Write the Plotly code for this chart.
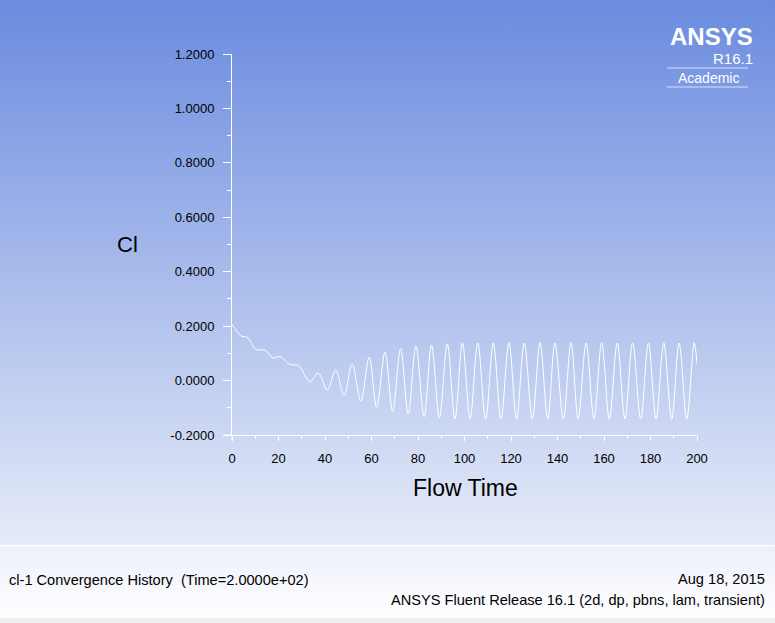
"""
ANSYS Fluent cl-1 수렴 이력(Convergence History)을 Plotly로 다시 그리는 스크립트.
"""
import base64
import plotly.graph_objects as go

# 그림에서 읽은 극값(피크/골) 위주의 점들: Flow Time, Cl
flow_time = [
    0.1, 2.0, 4.2, 6.3, 10.6, 14.0, 17.8, 20.6, 25.0, 28.5,
    33.5, 37.1, 41.0, 44.6, 48.2, 51.7, 55.4, 59.0, 62.2, 65.8,
    69.1, 72.5, 75.8, 79.1, 82.6, 85.8, 89.2, 92.6, 95.9, 99.1,
    102.4, 105.7, 109.1, 112.4, 115.7, 119.1, 122.4, 125.7, 129.2, 132.5,
    135.8, 138.9, 142.5, 145.8, 148.9, 152.3, 155.7, 159.0, 162.3, 165.7,
    169.0, 172.3, 175.8, 179.1, 182.4, 185.7, 189.1, 192.3, 195.6, 198.8,
    200.0,
]
cl = [
    0.206, 0.182, 0.162, 0.160, 0.113, 0.113, 0.083, 0.089, 0.059, 0.055,
    -0.004, 0.027, -0.034, 0.039, -0.055, 0.061, -0.076, 0.086, -0.098, 0.104,
    -0.113, 0.117, -0.123, 0.128, -0.133, 0.131, -0.137, 0.135, -0.141, 0.139,
    -0.141, 0.138, -0.142, 0.138, -0.141, 0.139, -0.142, 0.138, -0.141, 0.139,
    -0.142, 0.138, -0.141, 0.139, -0.142, 0.138, -0.141, 0.140, -0.142, 0.138,
    -0.141, 0.139, -0.142, 0.138, -0.141, 0.139, -0.142, 0.138, -0.141, 0.139,
    0.061,
]

x_ticks = list(range(0, 201, 20))
y_ticks = [-0.2, 0.0, 0.2, 0.4, 0.6, 0.8, 1.0, 1.2]
y_tick_labels = ["-0.2000", "0.0000", "0.2000", "0.4000", "0.6000", "0.8000", "1.0000", "1.2000"]

W, H = 775, 623
L, R, T, B = 232, 78, 54, 188
pw, ph = W - L - R, H - T - B

# 배경 그라데이션 (SVG 데이터 URI)
svg = f"""<svg xmlns='http://www.w3.org/2000/svg' width='{W}' height='{H}'>
<defs>
<linearGradient id='g1' x1='0' y1='0' x2='0' y2='1'>
<stop offset='0' stop-color='#6A8BDF'/><stop offset='1' stop-color='#E6EBF8'/></linearGradient>
<linearGradient id='g2' x1='0' y1='0' x2='0' y2='1'>
<stop offset='0' stop-color='#ECF0FA'/><stop offset='1' stop-color='#FFFFFF'/></linearGradient>
</defs>
<rect x='0' y='0' width='{W}' height='545' fill='url(#g1)'/>
<rect x='0' y='545' width='{W}' height='1' fill='#FFFFFF'/>
<rect x='0' y='546' width='{W}' height='72' fill='url(#g2)'/>
<rect x='0' y='618' width='{W}' height='5' fill='#EEEEEE'/>
</svg>"""
bg_src = "data:image/svg+xml;base64," + base64.b64encode(svg.encode()).decode()


def px_x(p):
    return (p - L) / pw


def px_y(p):
    return (H - B - p) / ph


fig = go.Figure()
fig.add_trace(go.Scatter(
    x=flow_time, y=cl, mode="lines",
    line=dict(color="white", width=1, shape="spline", smoothing=1.0),
    hoverinfo="x+y", showlegend=False,
))

font = "Liberation Sans, Arial, sans-serif"

fig.update_layout(
    width=W, height=H,
    margin=dict(l=L, r=R, t=T, b=B),
    paper_bgcolor="#A8BAEC",
    plot_bgcolor="rgba(0,0,0,0)",
    font=dict(family=font, color="black", size=13),
    images=[dict(
        source=bg_src, xref="paper", yref="paper",
        x=px_x(0), y=px_y(0), sizex=W / pw, sizey=H / ph,
        xanchor="left", yanchor="top", sizing="stretch", layer="below",
    )],
    xaxis=dict(
        range=[0, 200], tickvals=x_ticks, showgrid=False, zeroline=False,
        showline=True, linecolor="white", linewidth=1,
        ticks="outside", ticklen=5, tickcolor="white", tickwidth=1,
        minor=dict(dtick=10, ticks="outside", ticklen=3, tickcolor="white", showgrid=False),
        ticklabelstandoff=6,
        tickfont=dict(size=13, family=font, color="black"),
    ),
    yaxis=dict(
        range=[-0.2, 1.2], tickvals=y_ticks, ticktext=y_tick_labels,
        showgrid=False, zeroline=False,
        showline=True, linecolor="white", linewidth=1,
        ticks="outside", ticklen=8, tickcolor="white", tickwidth=1,
        minor=dict(dtick=0.1, ticks="outside", ticklen=4, tickcolor="white", showgrid=False),
        ticklabelstandoff=6,
        tickfont=dict(size=13, family=font, color="black"),
    ),
    shapes=[
        # 축 선의 짧은 연장
        dict(type="line", xref="paper", yref="paper", x0=px_x(224), x1=0, y0=0, y1=0,
             line=dict(color="white", width=1)),
        dict(type="line", xref="paper", yref="paper", x0=0, x1=0, y0=0, y1=px_y(441),
             line=dict(color="white", width=1)),
        # 로고의 가는 선
        dict(type="line", xref="paper", yref="paper", x0=px_x(667), x1=px_x(748),
             y0=px_y(68), y1=px_y(68), line=dict(color="rgba(255,255,255,0.7)", width=1)),
        dict(type="line", xref="paper", yref="paper", x0=px_x(667), x1=px_x(748),
             y0=px_y(87), y1=px_y(87), line=dict(color="rgba(255,255,255,0.7)", width=1)),
    ],
)

annos = [
    dict(text="Cl", x=px_x(127), y=px_y(245), size=22, xanchor="center", color="black"),
    dict(text="Flow Time", x=px_x(465), y=px_y(488), size=23, xanchor="center", color="black"),
    dict(text="<b>ANSYS</b>", x=px_x(755), y=px_y(36), size=24, xanchor="right", color="white"),
    dict(text="R16.1", x=px_x(755), y=px_y(58), size=15, xanchor="right", color="white"),
    dict(text="Academic", x=px_x(708), y=px_y(78), size=14, xanchor="center", color="white"),
    dict(text="cl-1 Convergence History  (Time=2.0000e+02)", x=px_x(7), y=px_y(580),
         size=14.6, xanchor="left", color="black"),
    dict(text="Aug 18, 2015", x=px_x(767), y=px_y(579), size=14.6, xanchor="right", color="black"),
    dict(text="ANSYS Fluent Release 16.1 (2d, dp, pbns, lam, transient)", x=px_x(767),
         y=px_y(600), size=14.6, xanchor="right", color="black"),
]
for a in annos:
    fig.add_annotation(
        text=a["text"], x=a["x"], y=a["y"], xref="paper", yref="paper",
        xanchor=a["xanchor"], yanchor="middle", showarrow=False,
        font=dict(family=font, size=a["size"], color=a["color"]),
    )

# 페이지 기본 여백 제거, 모드바 숨김
fig.write_html("out.html", config={"displayModeBar": False},
               post_script="document.body.style.margin='0';")
